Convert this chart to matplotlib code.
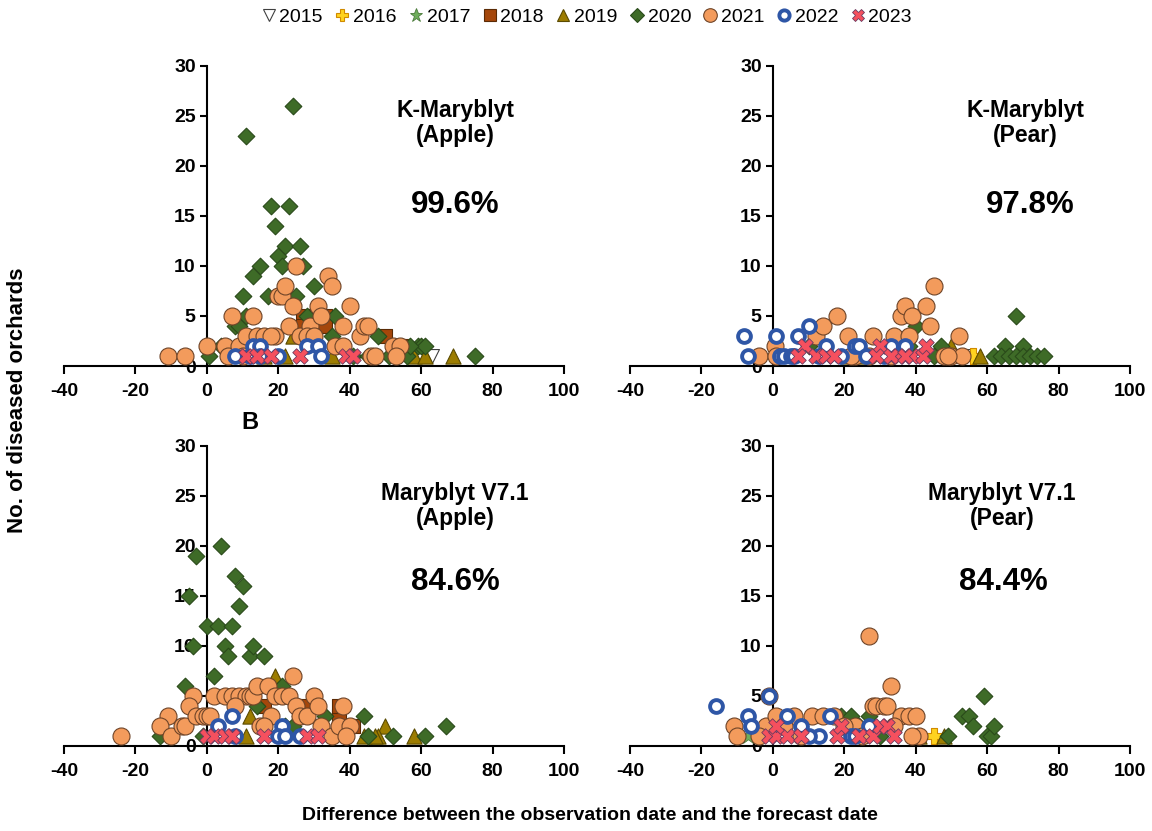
import matplotlib
matplotlib.use("Agg")
import matplotlib.pyplot as plt
from matplotlib.lines import Line2D

plt.rcParams['font.family'] = ['Liberation Sans', 'DejaVu Sans']

YEARS = ['2015', '2016', '2017', '2018', '2019', '2020', '2021', '2022', '2023']

# ---------------- K-Maryblyt (Apple) ----------------
ka_2015_x = [63]; ka_2015_y = [1]
ka_2018_x = [27, 33, 27, 33, 50, 55]; ka_2018_y = [5, 5, 4, 4, 3, 2]
ka_2019_x = [16, 22, 24, 35, 58, 61, 69]; ka_2019_y = [1, 1, 3, 1, 1, 1, 1]
ka_2020_x = [24, 11, 18, 23, 19, 22, 26, 20, 15, 21, 27, 13, 10, 17, 30, 25, 8, 9, 11, 36,
             0.5, 4, 59, 60, 61, 51, 35, 48, 28, 75, 41, 45, 56, 57]
ka_2020_y = [26, 23, 16, 16, 14, 12, 12, 11, 10, 10, 10, 9, 7, 7, 8, 7, 4, 4, 5, 5,
             1, 2, 2, 2, 2, 1, 3, 3, 5, 1, 1, 1, 1, 2]
ka_2021_x = [-11, -6, 0, 5, 6, 7, 13, 9, 11, 14, 16, 19, 20, 21, 22, 25, 24, 23, 26, 29,
             31, 32, 34, 35, 36, 38, 40, 43, 44, 45, 46, 47, 52, 54, 53, 38, 10, 18, 28, 30]
ka_2021_y = [1, 1, 2, 2, 1, 5, 5, 2, 3, 3, 3, 3, 7, 7, 8, 10, 6, 4, 3, 4,
             6, 5, 9, 8, 2, 4, 6, 3, 4, 4, 1, 1, 2, 2, 1, 2, 1, 3, 3, 3]
ka_2022_x = [8, 12, 13, 15, 15, 20, 28, 31, 32]; ka_2022_y = [1, 1, 2, 2, 1, 1, 2, 2, 1]
ka_2023_x = [11, 14, 18, 26, 39, 41]; ka_2023_y = [1, 1, 1, 1, 1, 1]

# ---------------- K-Maryblyt (Pear) ----------------
kp_2015_x = [54]; kp_2015_y = [1]
kp_2016_x = [56]; kp_2016_y = [1]
kp_2019_x = [58, 50, 21, 25]; kp_2019_y = [1, 2, 1, 1]
kp_2020_x = [68, 65, 70, 62, 64, 66, 68, 70, 72, 74, 76, 47, 40, 45, 10, 38]
kp_2020_y = [5, 2, 2, 1, 1, 1, 1, 1, 1, 1, 1, 2, 4, 1, 2, 2]
kp_2021_x = [-4, 0.5, 1, 12, 14, 18, 21, 28, 34, 38, 36, 37, 39, 43, 44, 45, 52, 50, 53,
             23, 22, 27, 33, 48, 49]
kp_2021_y = [1, 2, 1, 3, 4, 5, 3, 3, 3, 3, 5, 6, 5, 6, 4, 8, 3, 1, 1,
             1, 1, 1, 1, 1, 1]
kp_2022_x = [-8, -7, 1, 7, 10, 2, 3, 5, 6, 15, 19, 23, 24, 26, 33, 37, 31, 13]
kp_2022_y = [3, 1, 3, 3, 4, 1, 1, 1, 1, 2, 1, 2, 2, 1, 2, 2, 1, 1]
kp_2023_x = [9, 7, 12, 15, 17, 30, 29, 35, 39, 42, 43, 33, 37]
kp_2023_y = [2, 1, 1, 1, 1, 2, 1, 1, 1, 1, 2, 1, 1]

# ---------------- Maryblyt V7.1 (Apple) ----------------
va_2018_x = [16, 37, 37, 27, 41]; va_2018_y = [4, 3, 4, 4, 2]
va_2019_x = [19, 12, 50, 58, 48, 11, 44, 47]; va_2019_y = [7, 3, 2, 1, 1, 1, 1, 1]
va_2020_x = [4, -3, -5, 8, 10, 9, 0, 3, 7, -4, 5, 6, 12, 13, 16, 2, -6, 21, 14, 44,
             52, 61, 67, 45, -13, -1, 22, 26, 33, 24]
va_2020_y = [20, 19, 15, 17, 16, 14, 12, 12, 12, 10, 10, 9, 9, 10, 9, 7, 6, 6, 4, 3,
             1, 1, 2, 1, 1, 1, 2, 3, 3, 2]
va_2021_x = [-24, -11, -13, -10, -7, -6, -4, -5, -3, -1, 0, 1, 2, 5, 7, 9, 11, 12, 13, 14,
             17, 8, 19, 21, 23, 24, 25, 18, 26, 28, 30, 31, 32, 35, 37, 40, 38, 39, 15, 16]
va_2021_y = [1, 3, 2, 1, 2, 2, 5, 4, 3, 3, 3, 3, 5, 5, 5, 5, 5, 5, 5, 6,
             6, 4, 5, 5, 5, 7, 4, 3, 3, 3, 5, 4, 2, 1, 2, 2, 4, 1, 2, 2]
va_2022_x = [7, 3, 8, 21, 20, 22, 26]; va_2022_y = [3, 2, 1, 2, 1, 1, 1]
va_2023_x = [0, 2, 5, 7, 16, 28, 31]; va_2023_y = [1, 1, 1, 1, 1, 1, 1]

# ---------------- Maryblyt V7.1 (Pear) ----------------
vp_2016_x = [45]; vp_2016_y = [1]
vp_2017_x = [-7]; vp_2017_y = [1]
vp_2019_x = [48, 41]; vp_2019_y = [1, 1]
vp_2020_x = [19, 22, 27, 49, 53, 55, 56, 59, 60, 61, 62, 24, 30]
vp_2020_y = [3, 3, 3, 1, 3, 3, 2, 5, 1, 1, 2, 2, 1]
vp_2021_x = [27, 33, 28, 29, 31, 32, -11, -10, -2, -1, 1, 6, 11, 14, 17, 23, 36, 38, 40,
             41, 39, -4, 34, 8, 3, 20, 25]
vp_2021_y = [11, 6, 4, 4, 4, 4, 2, 1, 2, 5, 3, 3, 3, 3, 3, 2, 3, 3, 3,
             1, 1, 1, 2, 1, 2, 2, 1]
vp_2022_x = [-16, -7, -6, -1, 4, 8, 13, 16, 22, 23, 27, 10]
vp_2022_y = [4, 3, 2, 5, 3, 2, 1, 3, 1, 1, 2, 1]
vp_2023_x = [-1, 1, 4, 8, 1, 18, 19, 24, 28, 30, 32, 34]
vp_2023_y = [1, 1, 1, 1, 2, 1, 2, 1, 1, 2, 2, 1]

panel_titles = ['K-Maryblyt\n(Apple)', 'K-Maryblyt\n(Pear)',
                'Maryblyt V7.1\n(Apple)', 'Maryblyt V7.1\n(Pear)']
panel_pcts = ['99.6%', '97.8%', '84.6%', '84.4%']

x_ticks = [-40, -20, 0, 20, 40, 60, 80, 100]
y_ticks = [0, 5, 10, 15, 20, 25, 30]

# ---------------- styles ----------------
STYLE = {
    '2015': dict(marker='v', s=100, c='white', edgecolors='#404040', linewidths=0.8),
    '2016': dict(marker='P', s=130, c='#FFD21F', edgecolors='#D08A00', linewidths=0.8),
    '2017': dict(marker='*', s=150, c='#6FAE5C', edgecolors='#4A7A3A', linewidths=0.6),
    '2018': dict(marker='s', s=100, c='#A5470B', edgecolors='#5A2A05', linewidths=0.8),
    '2019': dict(marker='^', s=120, c='#9C7C00', edgecolors='#5A4A00', linewidths=0.8),
    '2020': dict(marker='D', s=72, c='#3E6B27', edgecolors='#2A4A1A', linewidths=0.8),
    '2021': dict(marker='o', s=150, c='#F39B5C', edgecolors='#6E4428', linewidths=0.8),
    '2022': dict(marker='o', s=85, c='white', edgecolors='#2E56A6', linewidths=2.8),
    '2023': dict(marker='X', s=125, c='#F5505E', edgecolors='#6A3A60', linewidths=0.6),
}

panels = [
    {'2015': (ka_2015_x, ka_2015_y), '2018': (ka_2018_x, ka_2018_y), '2019': (ka_2019_x, ka_2019_y),
     '2020': (ka_2020_x, ka_2020_y), '2021': (ka_2021_x, ka_2021_y), '2022': (ka_2022_x, ka_2022_y),
     '2023': (ka_2023_x, ka_2023_y)},
    {'2015': (kp_2015_x, kp_2015_y), '2016': (kp_2016_x, kp_2016_y), '2019': (kp_2019_x, kp_2019_y),
     '2020': (kp_2020_x, kp_2020_y), '2021': (kp_2021_x, kp_2021_y), '2022': (kp_2022_x, kp_2022_y),
     '2023': (kp_2023_x, kp_2023_y)},
    {'2018': (va_2018_x, va_2018_y), '2019': (va_2019_x, va_2019_y), '2020': (va_2020_x, va_2020_y),
     '2021': (va_2021_x, va_2021_y), '2022': (va_2022_x, va_2022_y), '2023': (va_2023_x, va_2023_y)},
    {'2016': (vp_2016_x, vp_2016_y), '2017': (vp_2017_x, vp_2017_y), '2019': (vp_2019_x, vp_2019_y),
     '2020': (vp_2020_x, vp_2020_y), '2021': (vp_2021_x, vp_2021_y), '2022': (vp_2022_x, vp_2022_y),
     '2023': (vp_2023_x, vp_2023_y)},
]

W, H = 1152, 831
fig = plt.figure(figsize=(W / 100, H / 100), dpi=100)

# axes rectangles in pixels: (left, top, width, height)
rects = [(64, 66, 500, 300), (630, 66, 500, 300), (64, 446, 500, 300), (630, 446, 500, 300)]
title_pos = [(455, 123), (1025, 123), (455, 506), (1002, 506)]
pct_pos = [(455, 205), (1030, 205), (455, 582), (1003, 582)]

for i, (l, t, w, h) in enumerate(rects):
    ax = fig.add_axes([l / W, 1 - (t + h) / H, w / W, h / H])
    ax.set_xlim(-40, 100)
    ax.set_ylim(0, 30)
    ax.spines['top'].set_visible(False)
    ax.spines['right'].set_visible(False)
    ax.spines['left'].set_position(('data', 0))
    for sp in ('left', 'bottom'):
        ax.spines[sp].set_linewidth(1.5)
        ax.spines[sp].set_zorder(1)
    ax.set_xticks(x_ticks)
    ax.set_yticks(y_ticks)
    ax.set_xticklabels([str(v) for v in x_ticks], fontsize=14, fontweight='bold')
    ax.set_yticklabels([str(v) for v in y_ticks], fontsize=14, fontweight='bold')
    ax.tick_params(axis='x', direction='out', length=6, width=1.5, pad=6)
    ax.tick_params(axis='y', direction='out', length=5, width=1.5, pad=3)
    ax.patch.set_alpha(0)
    for k, yr in enumerate(YEARS):
        if yr in panels[i]:
            xs, ys = panels[i][yr]
            ax.scatter(xs, ys, zorder=3 + k, clip_on=False, **STYLE[yr])
    tx, ty = title_pos[i]
    fig.text(tx / W, 1 - ty / H, panel_titles[i], ha='center', va='center',
             fontsize=16.5, fontweight='bold', linespacing=1.1)
    px, py = pct_pos[i]
    fig.text(px / W, 1 - py / H, panel_pcts[i], ha='center', va='center',
             fontsize=22.5, fontweight='bold')

fig.text(250 / W, 1 - 422 / H, 'B', ha='center', va='center', fontsize=17, fontweight='bold')
fig.text(18 / W, 1 - 400 / H, 'No. of diseased orchards', rotation=90, ha='center',
         va='center', fontsize=16, fontweight='bold')
fig.text(590 / W, 1 - 815 / H, 'Difference between the observation date and the forecast date',
         ha='center', va='center', fontsize=14, fontweight='bold')

handles = []
for yr in YEARS:
    st = STYLE[yr]
    ms = st['s'] ** 0.5 * 0.8
    handles.append(Line2D([], [], linestyle='none', marker=st['marker'], markersize=ms,
                          markerfacecolor=st['c'], markeredgecolor=st['edgecolors'],
                          markeredgewidth=st['linewidths']))
fig.legend(handles, YEARS, loc='center', bbox_to_anchor=(585 / W, 1 - 17 / H), ncol=9,
           frameon=False, fontsize=14, handletextpad=0.0, columnspacing=0.45,
           handlelength=1.1, borderpad=0.1)

fig.savefig('out.png', dpi=100)
